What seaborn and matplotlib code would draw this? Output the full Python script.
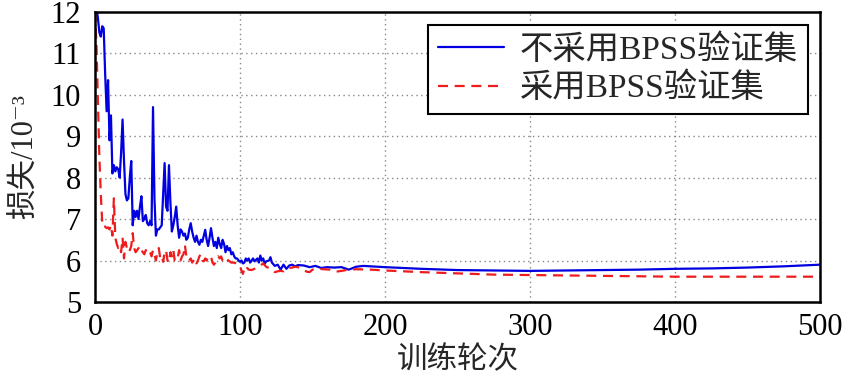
import numpy as np
import pandas as pd
import matplotlib
matplotlib.use("Agg")
import matplotlib.pyplot as plt
import seaborn as sns

# ---------------- data ----------------
blue_epochs = [0, 1, 2, 3, 4, 5, 6, 7, 8, 9, 10, 11, 12, 13, 14, 15, 16, 17, 18, 19,
               20, 21, 22, 23, 24, 25, 26, 27, 28, 29, 30, 31, 32, 33, 34, 35, 36, 37, 38, 39,
               40, 41, 42, 43, 44, 45, 46, 47, 48, 49, 50, 51, 52, 53, 54, 55, 56, 57, 58, 59,
               60, 61, 62, 63, 64, 65, 66, 67, 68, 69, 70, 71, 72, 73, 74, 75, 76, 77, 78, 79,
               80, 81, 82, 83, 84, 85, 86, 87, 88, 89, 90, 91, 92, 93, 94, 95, 96, 97, 98, 99,
               100, 101, 102, 103, 104, 105, 106, 107, 108, 109, 110, 112, 113, 114, 115, 116,
               117, 118, 120, 121, 122, 124, 126, 128, 130, 132, 134, 136, 138, 140, 144, 148,
               152, 156, 160, 165, 170, 175, 180, 185, 190, 200, 225, 250, 275, 300, 325, 350,
               375, 400, 425, 450, 475, 500]
blue_loss = [12.5, 12.1, 11.85, 11.5, 11.4, 11.65, 11.6, 10.5, 9.6, 10.35, 8.9, 9.5, 8.1, 8.3,
             8.15, 8.25, 8.2, 8.0, 8.6, 9.4, 8.4, 7.6, 7.45, 7.5, 8.0, 8.4, 6.85, 7.2, 7.05, 7.2,
             7.0, 7.3, 7.55, 6.95, 7.0, 7.1, 6.9, 6.85, 6.95, 6.85, 9.7, 7.5, 6.6, 6.75, 6.75,
             6.8, 6.85, 7.6, 8.35, 7.3, 7.2, 8.3, 7.4, 6.7, 6.85, 7.05, 7.3, 6.85, 6.55, 6.75,
             6.7, 6.6, 6.65, 6.5, 6.55, 6.75, 6.9, 6.7, 6.55, 6.45, 6.6, 6.45, 6.38, 6.5, 6.45,
             6.6, 6.74, 6.5, 6.35, 6.55, 6.78, 6.55, 6.35, 6.45, 6.3, 6.55, 6.4, 6.3, 6.5, 6.4,
             6.2, 6.35, 6.25, 6.3, 6.15, 6.2, 6.1, 6.05, 6.05, 6.0, 5.97, 6.0, 5.93, 5.95, 6.05,
             6.0, 6.05, 5.95, 6.0, 6.05, 5.98, 6.05, 5.95, 6.12, 6.0, 6.05, 5.92, 5.98, 6.0,
             6.08, 5.95, 5.87, 5.9, 5.78, 5.9, 5.8, 5.88, 5.9, 5.86, 5.89, 5.88, 5.84, 5.87,
             5.82, 5.84, 5.83, 5.84, 5.78, 5.85, 5.87, 5.86, 5.84, 5.8, 5.77, 5.76, 5.75, 5.76,
             5.77, 5.78, 5.8, 5.81, 5.83, 5.86, 5.9]

red_epochs = [0, 1, 2, 3, 4, 5, 6, 7, 8, 9, 10, 11, 12, 13, 14, 15, 16, 17, 18, 19,
              20, 21, 22, 23, 24, 25, 26, 27, 28, 29, 30, 31, 32, 33, 34, 35, 36, 37, 38, 39,
              40, 41, 42, 43, 44, 45, 46, 47, 48, 49, 50, 51, 52, 53, 54, 55, 56, 57, 58, 59,
              60, 61, 62, 63, 64, 65, 66, 67, 68, 69, 70, 71, 72, 73, 74, 75, 76, 77, 78, 79,
              80, 81, 82, 83, 84, 85, 86, 87, 88, 89, 90, 92, 94, 96, 98, 100, 101, 102, 103,
              104, 105, 106, 108, 110, 112, 114, 116, 118, 120, 122, 124, 126, 128, 130, 132,
              134, 136, 138, 140, 142, 144, 146, 148, 150, 154, 158, 162, 166, 170, 175, 180,
              190, 200, 225, 250, 275, 300, 350, 400, 450, 500]
red_loss = [12.0, 11.2, 9.8, 8.5, 7.6, 6.9, 6.8, 6.82, 6.78, 6.8, 6.75, 6.85, 6.6, 7.5, 6.55,
            6.4, 6.3, 6.35, 6.2, 6.55, 6.05, 6.45, 6.3, 6.35, 6.25, 6.35, 6.66, 6.3, 6.2, 6.25,
            6.3, 6.2, 6.25, 6.2, 6.15, 6.25, 6.2, 6.15, 6.2, 6.1, 6.25, 6.15, 6.0, 6.2, 6.3,
            6.05, 6.1, 5.97, 6.2, 6.25, 6.0, 5.95, 6.2, 6.1, 6.25, 6.0, 5.98, 6.05, 6.25, 6.0,
            6.1, 6.15, 6.37, 6.1, 6.1, 6.0, 6.05, 5.95, 6.0, 6.05, 5.93, 6.0, 6.1, 6.15, 6.0,
            5.98, 6.05, 6.0, 6.1, 6.1, 6.1, 5.95, 5.9, 5.95, 6.05, 6.1, 6.05, 6.1, 6.0, 5.98,
            6.05, 6.0, 5.95, 5.95, 5.92, 5.88, 5.75, 5.68, 5.8, 5.75, 5.82, 5.78, 5.77, 5.8,
            5.85, 5.88, 5.93, 5.85, 5.82, 5.78, 5.72, 5.74, 5.75, 5.74, 5.8, 5.82, 5.83, 5.85,
            5.84, 5.8, 5.78, 5.73, 5.72, 5.78, 5.8, 5.79, 5.78, 5.73, 5.75, 5.78, 5.79, 5.78,
            5.76, 5.72, 5.69, 5.66, 5.65, 5.63, 5.61, 5.61, 5.61]

label_blue = "不采用BPSS验证集"
label_red = "采用BPSS验证集"
x_label = "训练轮次"
y_label = "损失/10⁻³"
x_ticks = [0, 100, 200, 300, 400, 500]
y_ticks = [5, 6, 7, 8, 9, 10, 11, 12]

# ---------------- style ----------------
sns.set_theme(style="white")
plt.rcParams["font.family"] = ["Liberation Serif", "DejaVu Serif", "Noto Sans CJK SC"]
plt.rcParams["axes.unicode_minus"] = False

df_blue = pd.DataFrame({"epoch": blue_epochs, "loss": blue_loss})
df_red = pd.DataFrame({"epoch": red_epochs, "loss": red_loss})

fig = plt.figure(figsize=(8.46, 3.75), dpi=100)
ax = fig.add_axes([0.1123, 0.1947, 0.857, 0.774])

sns.lineplot(data=df_blue, x="epoch", y="loss", ax=ax, color="#0000e0",
             linewidth=1.6, label=label_blue, estimator=None)
sns.lineplot(data=df_red, x="epoch", y="loss", ax=ax, color="#ee1c1c",
             linewidth=1.6, linestyle=(0, (4.5, 3)), label=label_red, estimator=None)

ax.set_xlim(0, 500)
ax.set_ylim(5, 12)
ax.set_xticks(x_ticks)
ax.set_yticks(y_ticks)
ax.grid(True, color="#888888", linestyle=(0, (1, 2.5)), linewidth=1.0)
for s in ax.spines.values():
    s.set_color("black")
    s.set_linewidth(1.8)
ax.tick_params(direction="out", length=5, width=1.5, labelsize=22, colors="black")
ax.tick_params(axis="y", pad=5)
ax.tick_params(axis="x", pad=3)

ax.set_xlabel(x_label, fontsize=22, labelpad=3)
ax.set_ylabel(y_label, fontsize=22, labelpad=8)

leg = ax.legend(loc="upper right", bbox_to_anchor=(0.983, 0.956), borderaxespad=0,
                fontsize=24, frameon=True, fancybox=False, framealpha=1,
                handlelength=2.0, handletextpad=0.45, borderpad=0.3, labelspacing=0.2)
leg.get_frame().set_edgecolor("black")
leg.get_frame().set_linewidth(1.5)

fig.savefig("out.png", dpi=100)
